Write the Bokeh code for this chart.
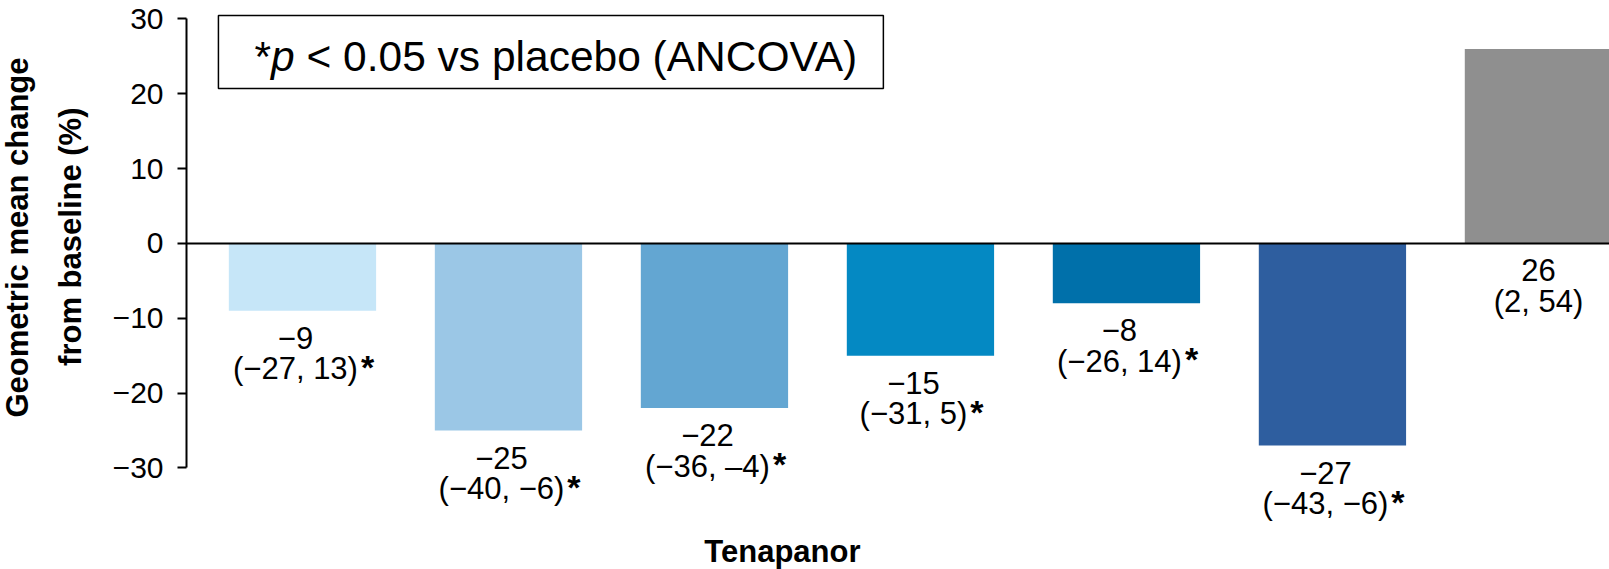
from bokeh.plotting import figure
from bokeh.models import (Range1d, LinearAxis, FixedTicker, Span, LabelSet, Label,
                          BoxAnnotation, ColumnDataSource, Title)
from bokeh.core.properties import value
from bokeh.embed import file_html
from bokeh.resources import INLINE

# ---- data ----
groups = ["T1", "T2", "T3", "T4", "T5", "T6", "Placebo"]
values = [-9, -25, -22, -15, -8, -27, 26]
ci_text = ["(−27, 13)", "(−40, −6)", "(−36, –4)", "(−31, 5)", "(−26, 14)", "(−43, −6)", "(2, 54)"]
significant = [True, True, True, True, True, True, False]
colors = ["#C6E6F8", "#9BC7E6", "#63A6D2", "#0489C3", "#0070AA", "#2E5E9F", "#8F8F8F"]
y_ticks = [-30, -20, -10, 0, 10, 20, 30]
y_tick_labels = ["−30", "−20", "−10", "0", "10", "20", "30"]
x_title = "Tenapanor"
y_title_lines = ["Geometric mean change", "from baseline (%)"]
note_parts = ["*", "p", "< 0.05 vs placebo (ANCOVA)"]

FONT = "Liberation Sans"
LBL = 31  # px, value label font size

# approximate Arial/Liberation advance widths (em)
W = {"(": .333, ")": .333, "−": .584, "–": .556, ",": .278, " ": .278, "*": .389,
     "<": .584, ".": .278, "p": .556, "v": .5, "s": .5, "l": .222, "a": .556, "c": .5,
     "e": .556, "b": .556, "o": .556, "A": .667, "N": .722, "C": .722, "O": .778, "V": .667}
def tw(s, size):
    return sum(W.get(ch, .556) for ch in s) * size

xs = list(range(len(groups)))
value_text = [("−" if v < 0 else "") + str(abs(v)) for v in values]
anchor_y = [min(v, 0) for v in values]
text_dx = [-7 if s else 0 for s in significant]
star_x_off = [d + tw(t, LBL) / 2 + 3 for d, t in zip(text_dx, ci_text)]
star_text = ["*" if s else "" for s in significant]

src = ColumnDataSource(dict(x=xs, top=values, color=colors, ay=anchor_y, dx=text_dx,
                            vt=value_text, ct=ci_text, st=star_text, sx=star_x_off))

p = figure(width=1609, height=569, output_backend="svg", toolbar_location=None,
           x_range=Range1d(-0.563, 6.345), y_range=Range1d(-43.57, 32.47),
           x_axis_type=None, y_axis_type=None,
           min_border_left=186, min_border_right=0, min_border_top=0, min_border_bottom=0)
p.outline_line_color = None
p.xgrid.visible = False
p.ygrid.visible = False
p.background_fill_color = "white"
p.border_fill_color = "white"

p.vbar(x="x", top="top", bottom=0, width=0.715, color="color", line_color=None, source=src)

p.add_layout(Span(location=0, dimension="width", line_color="black", line_width=2))

yax = LinearAxis(ticker=FixedTicker(ticks=y_ticks), bounds=(-30, 30))
yax.major_label_overrides = {t: l for t, l in zip(y_ticks, y_tick_labels)}
yax.axis_line_width = 2
yax.axis_line_color = "black"
yax.major_tick_line_width = 2
yax.major_tick_line_color = "black"
yax.major_tick_out = 9
yax.major_tick_in = 0
yax.minor_tick_line_color = None
yax.major_label_text_font = FONT
yax.major_label_text_font_size = "30px"
yax.major_label_text_color = "black"
yax.major_label_standoff = 14
p.add_layout(yax, "left")

# y-axis title as two rotated titles (inner line first)
for line, off, so in [(y_title_lines[1], 107, 44), (y_title_lines[0], 57, -12)]:
    t = Title(text=line, align="right", offset=off, standoff=so,
              text_font=FONT, text_font_size="31px", text_font_style="bold",
              text_color="black")
    p.add_layout(t, "left")

common = dict(text_font=value(FONT), text_font_size=f"{LBL}px", text_color="black",
              text_baseline="middle", source=src)
p.add_layout(LabelSet(x="x", y="ay", text="vt", x_offset="dx", y_offset=-27,
                      text_align="center", **common))
p.add_layout(LabelSet(x="x", y="ay", text="ct", x_offset="dx", y_offset=-58,
                      text_align="center", **common))
p.add_layout(LabelSet(x="x", y="ay", text="st", x_offset="sx", y_offset=-56,
                      text_align="left", text_font=value(FONT), text_font_size="34px",
                      text_font_style="bold", text_color="black", text_baseline="middle",
                      source=src))

# note box
p.add_layout(BoxAnnotation(left=-0.408, right=2.82, top=30.45, bottom=20.7,
                           fill_color="white", fill_alpha=1, line_color="black",
                           line_alpha=1, line_width=1.5, level="overlay"))
NOTE = 42.5
nx = -0.233
off = 0
for i, part in enumerate(note_parts):
    p.add_layout(Label(x=nx, y=25.0, x_offset=off, text=part, text_font=FONT,
                       text_font_size=f"{NOTE}px", text_color="black",
                       text_font_style="italic" if i == 1 else "normal",
                       text_baseline="alphabetic", text_align="left", level="overlay"))
    off += tw(part, NOTE) + (tw(" ", NOTE) if i == 1 else 0)

p.add_layout(Label(x=2.33, y=-41.2, text=x_title, text_font=FONT, text_font_size="31px",
                   text_font_style="bold", text_color="black", text_align="center",
                   text_baseline="middle"))

open("out.html", "w").write(file_html(p, INLINE))
